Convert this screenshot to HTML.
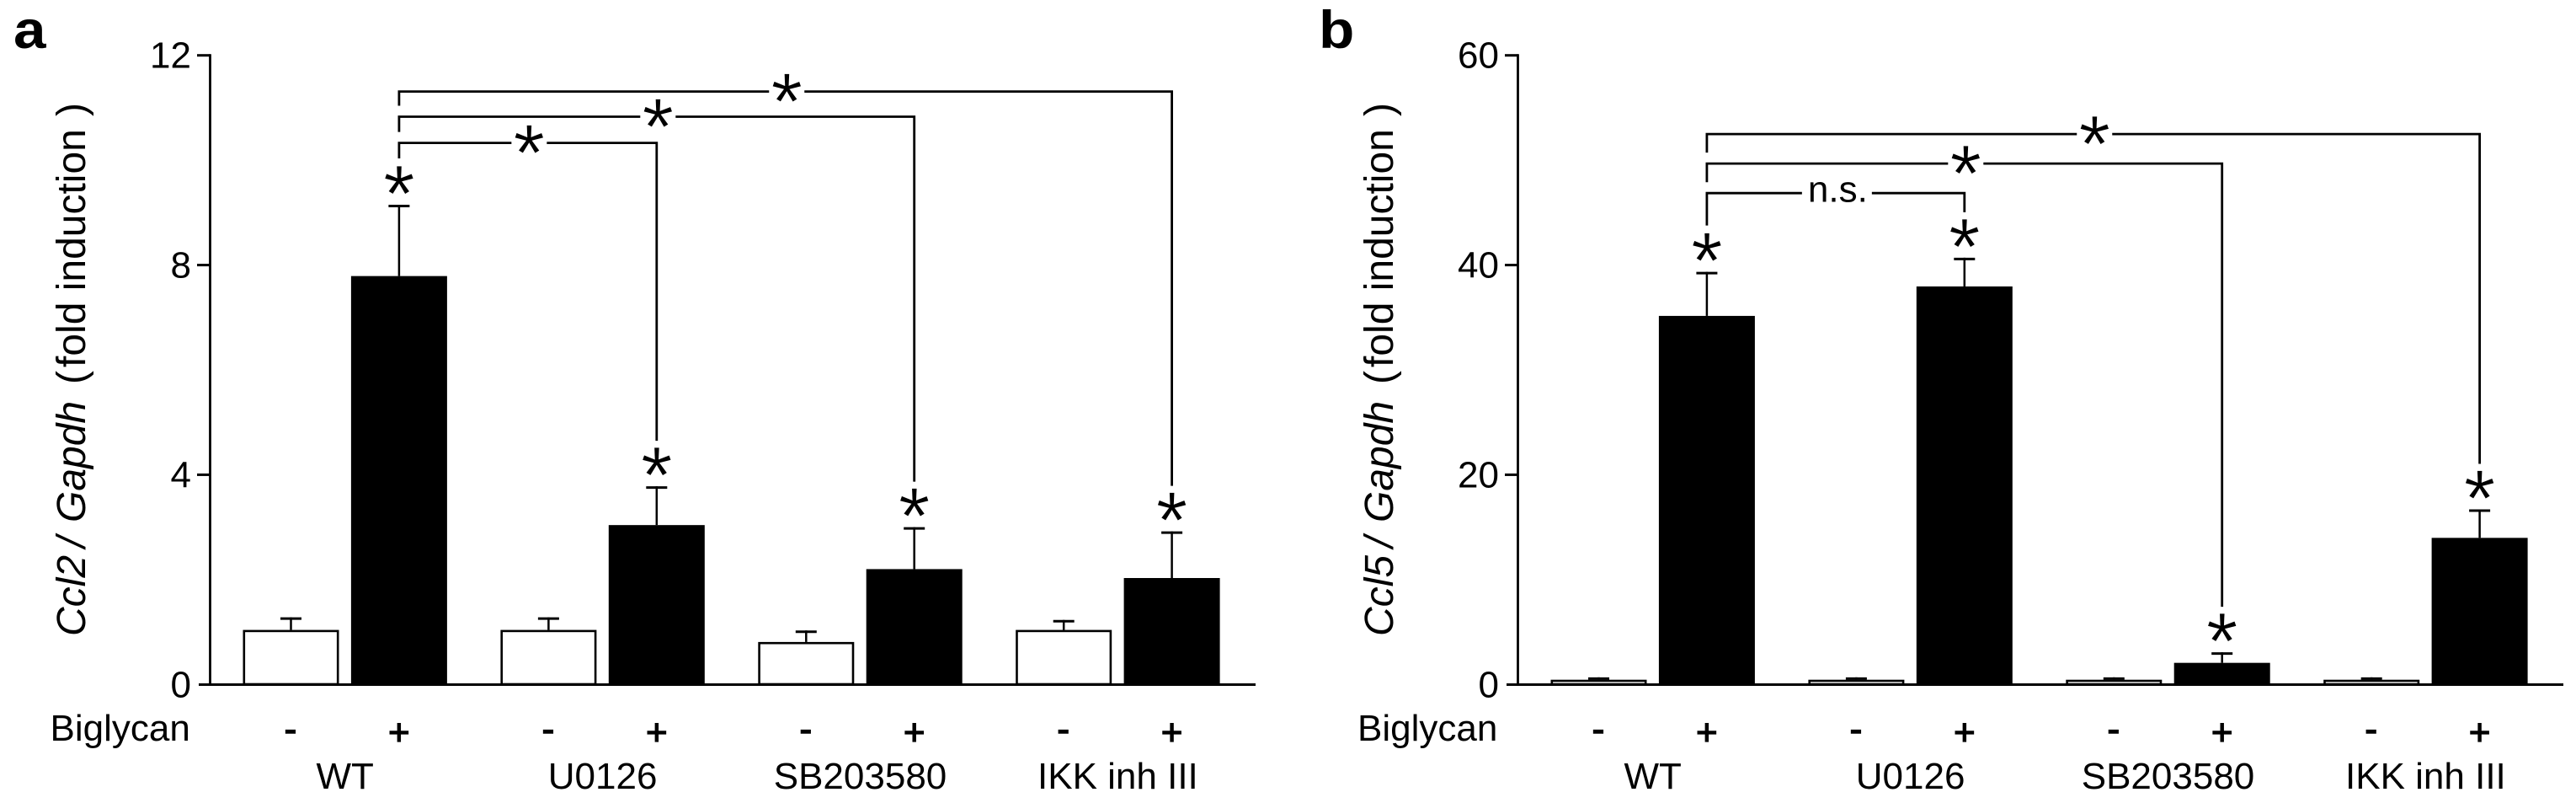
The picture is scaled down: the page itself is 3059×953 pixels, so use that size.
<!DOCTYPE html>
<html lang="en">
<head>
<meta charset="utf-8">
<title>Ccl2 and Ccl5 fold induction by Biglycan</title>
<style>
html,body{margin:0;padding:0;background:#fff;}
svg{display:block;font-family:"Liberation Sans",Arial,sans-serif;fill:#000;}
text{fill:#000;}
</style>
</head>
<body>
<svg id="figure" xmlns="http://www.w3.org/2000/svg" width="3059" height="953" viewBox="0 0 3059 953">
  <rect width="3059" height="953" fill="#fff"/>
  <g id="panel-a">
    <text transform="translate(16 57) scale(1.1 1)" font-size="63" font-weight="700">a</text>
    <text transform="translate(101 755) rotate(-90)" font-size="48"><tspan x="0" font-style="italic">Ccl2</tspan><tspan x="105" font-style="italic">/</tspan><tspan x="135" font-style="italic">Gapdh</tspan><tspan x="299">(</tspan><tspan x="319">fold induction</tspan><tspan x="617">)</tspan></text>
    <text x="59.5" y="879" font-size="44">Biglycan</text>
  </g>
  <g id="panel-b">
    <text transform="translate(1566 57) scale(1.1 1)" font-size="63" font-weight="700">b</text>
    <text transform="translate(1654 755) rotate(-90)" font-size="48"><tspan x="0" font-style="italic">Ccl5</tspan><tspan x="105" font-style="italic">/</tspan><tspan x="135" font-style="italic">Gapdh</tspan><tspan x="299">(</tspan><tspan x="319">fold induction</tspan><tspan x="617">)</tspan></text>
    <text x="1612" y="879" font-size="44">Biglycan</text>
  </g>
</svg>
<script>
const categories = ['WT', 'U0126', 'SB203580', 'IKK inh III'];
const treatments = ['-', '+'];

const ticksA = [0, 4, 8, 12];
const meansMinusA = [1.04, 1.04, 0.81, 1.04];
const errTopMinusA = [1.28, 1.28, 1.03, 1.23];
const meansPlusA = [7.79, 3.04, 2.2, 2.03];
const errTopPlusA = [9.15, 3.78, 3.0, 2.92];
const bracketTargetsA = [1, 2, 3];
const bracketLevelsA = [10.33, 10.83, 11.31];
const bracketLabelsA = ['*', '*', '*'];

const ticksB = [0, 20, 40, 60];
const meansMinusB = [0.45, 0.45, 0.45, 0.45];
const errTopMinusB = [0.68, 0.68, 0.68, 0.68];
const meansPlusB = [35.15, 37.96, 2.06, 13.98];
const errTopPlusB = [39.35, 40.7, 3.07, 16.7];
const bracketTargetsB = [1, 2, 3];
const bracketLevelsB = [46.86, 49.68, 52.49];
const bracketLabelsB = ['n.s.', '*', '*'];

const NS = 'http://www.w3.org/2000/svg';

function make(parent, tag, attrs, txt) {
  const el = document.createElementNS(NS, tag);
  for (const k in attrs) el.setAttribute(k, attrs[k]);
  if (txt !== undefined) el.textContent = txt;
  parent.appendChild(el);
  return el;
}

function drawPanel(panelId, suffix, dx, ticks, meansMinus, errMinus, meansPlus, errPlus, targets, levels, labels) {
  const root = document.getElementById(panelId);
  const yMax = ticks[ticks.length - 1];
  const yScale = function (v) { return 812.3 - (v / yMax) * 746.6; };
  const xMinus = function (g) { return dx + 345.5 + g * 305.9; };
  const xPlus = function (g) { return dx + 473.9 + g * 305.9; };
  const axisX = dx + 249.5;
  const starLift = 46;

  const barsGroup = make(root, 'g', {});
  
  

  categories.forEach(function (cat, g) {
    const key = cat.toLowerCase().replace(/\s+/g, '-') + '-' + suffix;
    // minus bar error
    const mx = xMinus(g);
    const mStem = make(barsGroup, 'line', { x1: mx, x2: mx, y1: yScale(errMinus[g]), y2: yScale(meansMinus[g]), stroke: '#000', 'stroke-width': 2.5 });
    
    
    const mCap = make(barsGroup, 'line', { x1: mx - 12.5, x2: mx + 12.5, y1: yScale(errMinus[g]) + 1.5, y2: yScale(errMinus[g]) + 1.5, stroke: '#000', 'stroke-width': 3 });
    
    
    // minus bar
    const top = yScale(meansMinus[g]) + 1.3;
    const mBar = make(barsGroup, 'rect', { x: mx - 55.7, y: top, width: 111.4, height: Math.max(812 - top, 0), fill: '#fff', stroke: '#000', 'stroke-width': 2.6 });
    
    
    // plus bar error
    const px = xPlus(g);
    const pStem = make(barsGroup, 'line', { x1: px, x2: px, y1: yScale(errPlus[g]), y2: yScale(meansPlus[g]), stroke: '#000', 'stroke-width': 2.5 });
    
    
    const pCap = make(barsGroup, 'line', { x1: px - 12.5, x2: px + 12.5, y1: yScale(errPlus[g]) + 1.5, y2: yScale(errPlus[g]) + 1.5, stroke: '#000', 'stroke-width': 3 });
    
    
    // plus bar
    const pBar = make(barsGroup, 'rect', { x: px - 57, y: yScale(meansPlus[g]), width: 114, height: 812 - yScale(meansPlus[g]), fill: '#000' });
    
    
    // significance star above plus bar
    const star = make(barsGroup, 'text', { x: px, y: yScale(errPlus[g]) - 26 + starLift, 'font-size': 96, 'text-anchor': 'middle', stroke: '#fff', 'stroke-width': 0.8 }, '*');
    
    
    // treatment signs
    const minusSign = make(root, 'text', { x: mx - 0.5, y: 880, 'font-size': 44, 'text-anchor': 'middle', stroke: '#000', 'stroke-width': 1.5 }, treatments[0]);
    
    
    const plusSign = make(root, 'text', { x: px, y: 884, 'font-size': 44, 'text-anchor': 'middle', stroke: '#000', 'stroke-width': 1.3 }, treatments[1]);
    
    
    // category label
    const catLabel = make(root, 'text', { x: (mx + px) / 2, y: 936, 'font-size': 44, 'text-anchor': 'middle' }, cat);
    
    
  });

  // axes
  const xAxis = make(root, 'line', { x1: dx + 236, x2: dx + 1491, y1: 812.5, y2: 812.5, stroke: '#000', 'stroke-width': 3 });
  
  
  const yAxis = make(root, 'line', { x1: axisX, x2: axisX, y1: yScale(yMax) - 1.5, y2: 812.5, stroke: '#000', 'stroke-width': 2.8 });
  
  

  ticks.forEach(function (t) {
    const yy = yScale(t);
    if (t !== 0) {
      const tick = make(root, 'line', { x1: dx + 234, x2: axisX, y1: yy, y2: yy, stroke: '#000', 'stroke-width': 3 });
      
      
    }
    const lbl = make(root, 'text', { x: dx + 227, y: yy + 15, 'font-size': 44, 'text-anchor': 'end' }, String(t));
    
    
  });

  // significance brackets, from inner to outer
  const startX = xPlus(0);
  targets.forEach(function (target, i) {
    const endX = xPlus(target);
    const yy = yScale(levels[i]);
    const mid = (startX + endX) / 2 + 1.5;
    const label = labels[i];
    const gap = label === '*' ? 21 : 41.5;
    const leftEnd = i === 0 ? yScale(errPlus[0]) - 55 : yScale(levels[i - 1]) - 13;
    const rightEnd = yScale(errPlus[target]) - 54;
    const pathD = 'M' + startX + ' ' + leftEnd + 'V' + yy + 'H' + (mid - gap) + 'M' + (mid + gap) + ' ' + yy + 'H' + endX + 'V' + rightEnd;
    const bracket = make(root, 'path', { d: pathD, fill: 'none', stroke: '#000', 'stroke-width': 2.8 });
    
    
    const isStar = label === '*';
    const markAttrs = isStar
      ? { x: mid, y: yy - 1 + starLift, 'font-size': 96, 'text-anchor': 'middle', stroke: '#fff', 'stroke-width': 0.8 }
      : { x: mid + 1, y: yy + 10.5, 'font-size': 44, 'text-anchor': 'middle' };
    const mark = make(root, 'text', markAttrs, label);
    
    
  });
}

drawPanel('panel-a', 'a', 0, ticksA, meansMinusA, errTopMinusA, meansPlusA, errTopPlusA, bracketTargetsA, bracketLevelsA, bracketLabelsA);
drawPanel('panel-b', 'b', 1553, ticksB, meansMinusB, errTopMinusB, meansPlusB, errTopPlusB, bracketTargetsB, bracketLevelsB, bracketLabelsB);
</script>
</body>
</html>
